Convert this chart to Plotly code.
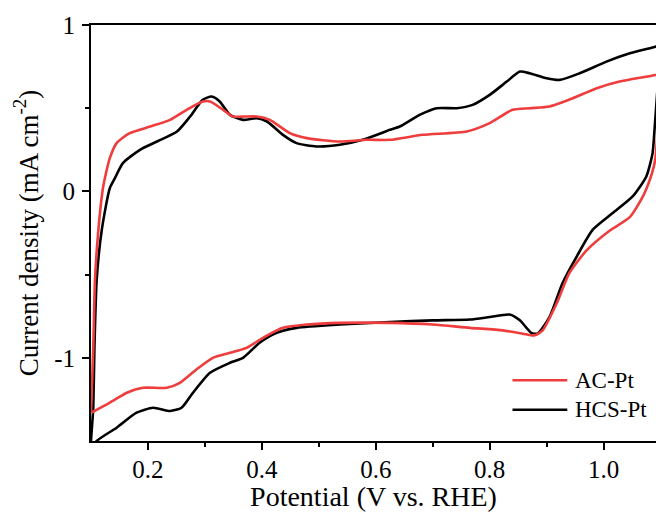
import plotly.graph_objects as go

# AC-Pt (red): anodic sweep then cathodic sweep
ac_x_up = [0.100, 0.104, 0.107, 0.113, 0.121, 0.127, 0.133, 0.145, 0.168, 0.204, 0.239, 0.268, 0.296, 0.309,
           0.332, 0.349, 0.370, 0.391, 0.414, 0.449, 0.479, 0.537, 0.584, 0.625, 0.682, 0.760, 0.800,
           0.840, 0.870, 0.905, 0.946, 0.988, 1.028, 1.091, 1.100]
ac_y_up = [-1.33, -0.94, -0.53, -0.23, 0.02, 0.12, 0.20, 0.29, 0.35, 0.39, 0.43, 0.49, 0.54, 0.54,
           0.49, 0.45, 0.45, 0.45, 0.43, 0.35, 0.32, 0.30, 0.31, 0.31, 0.34, 0.36, 0.41,
           0.49, 0.50, 0.51, 0.56, 0.62, 0.66, 0.70, 0.71]
ac_x_down = [1.100, 1.091, 1.085, 1.069, 1.046, 1.011, 0.970, 0.940, 0.918, 0.893, 0.879, 0.858, 0.823,
             0.765, 0.700, 0.625, 0.537, 0.479, 0.437, 0.402, 0.373, 0.344, 0.314, 0.285, 0.256,
             0.233, 0.191, 0.163, 0.133, 0.101]
ac_y_down = [0.71, 0.20, 0.11, -0.03, -0.155, -0.235, -0.355, -0.49, -0.67, -0.835, -0.865, -0.855, -0.835,
             -0.82, -0.80, -0.79, -0.79, -0.80, -0.82, -0.88, -0.94, -0.97, -1.00, -1.07, -1.15,
             -1.18, -1.18, -1.21, -1.27, -1.33]

# HCS-Pt (black)
hcs_x_up = [0.100, 0.104, 0.106, 0.110, 0.119, 0.133, 0.142, 0.156, 0.186, 0.216, 0.251, 0.274, 0.296,
            0.312, 0.326, 0.344, 0.367, 0.391, 0.409, 0.437, 0.461, 0.496, 0.537, 0.577, 0.625,
            0.642, 0.677, 0.707, 0.742, 0.770, 0.800, 0.830, 0.853, 0.870, 0.900, 0.923, 0.958,
            1.005, 1.046, 1.091, 1.100]
hcs_y_up = [-1.56, -1.30, -0.94, -0.53, -0.23, 0.02, 0.08, 0.17, 0.25, 0.30, 0.36, 0.45, 0.55,
            0.57, 0.54, 0.46, 0.43, 0.44, 0.42, 0.34, 0.29, 0.27, 0.28, 0.31, 0.37,
            0.39, 0.46, 0.50, 0.50, 0.52, 0.58, 0.66, 0.72, 0.71, 0.68, 0.67, 0.71,
            0.78, 0.83, 0.87, 0.88]
hcs_x_down = [1.100, 1.089, 1.086, 1.075, 1.051, 1.016, 0.981, 0.953, 0.928, 0.905, 0.884, 0.873, 0.853,
              0.835, 0.800, 0.765, 0.700, 0.625, 0.537, 0.461, 0.426, 0.396, 0.367, 0.344, 0.309,
              0.279, 0.259, 0.239, 0.209, 0.180, 0.145, 0.110, 0.100]
hcs_y_down = [0.88, 0.35, 0.23, 0.09, -0.03, -0.13, -0.23, -0.39, -0.55, -0.755, -0.855, -0.85, -0.775,
              -0.74, -0.755, -0.77, -0.775, -0.785, -0.80, -0.82, -0.85, -0.91, -1.00, -1.03, -1.09,
              -1.21, -1.30, -1.32, -1.30, -1.33, -1.42, -1.50, -1.56]

series_names = ["AC-Pt", "HCS-Pt"]
colors = ["#EF3D3D", "#000000"]

x_ticks = [0.2, 0.4, 0.6, 0.8, 1.0]
x_tick_labels = ["0.2", "0.4", "0.6", "0.8", "1.0"]
y_ticks = [-1, 0, 1]
y_tick_labels = ["-1", "0", "1"]

FONT = "Liberation Serif, Times New Roman, serif"

fig = go.Figure()
fig.add_trace(go.Scatter(x=hcs_x_up + hcs_x_down, y=hcs_y_up + hcs_y_down, mode="lines",
                         line=dict(color=colors[1], width=2.6, shape="spline", smoothing=0.6),
                         name=series_names[1], showlegend=False))
fig.add_trace(go.Scatter(x=ac_x_up + ac_x_down, y=ac_y_up + ac_y_down, mode="lines",
                         line=dict(color=colors[0], width=2.6, shape="spline", smoothing=0.6),
                         name=series_names[0], showlegend=False))

# manual legend
legend_y = [0.146, 0.075]
for name, col, ly in zip(series_names, colors, legend_y):
    fig.add_shape(type="line", xref="paper", yref="paper", x0=0.746, x1=0.843, y0=ly, y1=ly,
                  line=dict(color=col, width=2.6))
    fig.add_annotation(xref="paper", yref="paper", x=0.853, y=ly, text=name, showarrow=False,
                       xanchor="left", yanchor="middle", font=dict(family=FONT, size=23, color="#000"))

fig.update_layout(
    width=656, height=512,
    margin=dict(l=91, r=0, t=25, b=71),
    paper_bgcolor="white", plot_bgcolor="white",
    font=dict(family=FONT, size=25, color="#000"),
    showlegend=False,
)
fig.update_xaxes(
    range=[0.1, 1.092], tickvals=x_ticks, ticktext=x_tick_labels, automargin=False,
    showline=True, linewidth=2, linecolor="black", mirror=True,
    ticks="outside", ticklen=7, tickwidth=2, tickcolor="black", ticklabelstandoff=-2,
    minor=dict(tickvals=[0.3, 0.5, 0.7, 0.9], ticks="outside", ticklen=4, tickwidth=2, tickcolor="black"),
    showgrid=False, zeroline=False,
    tickfont=dict(family=FONT, size=25),
    title=dict(text="Potential (V vs. RHE)", font=dict(family=FONT, size=28), standoff=7),
)
fig.update_yaxes(
    range=[-1.5, 1.0], tickvals=y_ticks, ticktext=y_tick_labels, automargin=False,
    showline=True, linewidth=2, linecolor="black", mirror=False,
    ticks="outside", ticklen=7, tickwidth=2, tickcolor="black", ticklabelstandoff=2,
    minor=dict(tickvals=[-0.5, 0.5], ticks="outside", ticklen=4, tickwidth=2, tickcolor="black"),
    showgrid=False, zeroline=False,
    tickfont=dict(family=FONT, size=25),
    title=dict(text="Current density (mA cm<sup>-2</sup>)", font=dict(family=FONT, size=27), standoff=8),
)

fig.write_html("out.html")
